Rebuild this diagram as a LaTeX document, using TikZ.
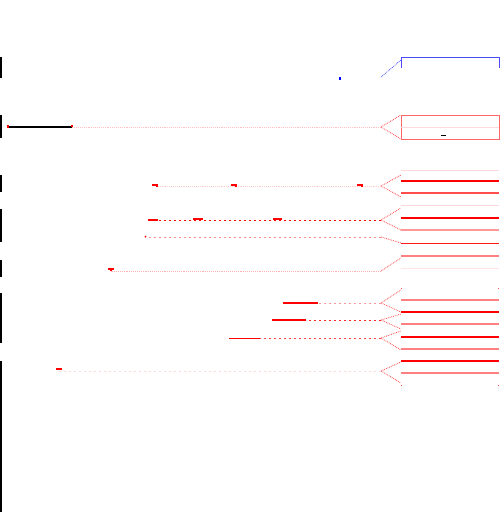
\documentclass[tikz,border=0pt]{standalone}
\begin{document}
\begin{tikzpicture}[x=1pt,y=-1pt]
            \tikzstyle{bar}=[line width=1.6pt,black]
            \tikzset{fan/.style = {densely dotted,red!75,line width=0.8pt}}
            \tikzset{trail/.style = {dash pattern=on 2pt off 3pt,red!35,line width=0.9pt}}
            \tikzset{tick/.style = {red,line width=1.2pt}}
            \useasboundingbox (0,0) rectangle (500,512);
            % left bars
            \foreach \a/\b in {57/78,115/138,175/192,209/242,260/277,293/343,361/512}
                \draw[bar] (1,\a) -- (1,\b);
            % hubs
            \coordinate (h1) at (381,77);
            \coordinate (h2) at (381,127);
            \coordinate (h3) at (381,186);
            \coordinate (h4) at (381,220);
            \coordinate (h5) at (381,237);
            \coordinate (h6) at (381,271);
            \coordinate (h7) at (381,303);
            \coordinate (h8) at (381,320);
            \coordinate (h9) at (381,338);
            \coordinate (h10) at (381,371);
            % left ends
            \coordinate (s1) at (340,77);
            \coordinate (s2) at (72,127);
            \coordinate (s3) at (157,186);
            \coordinate (s4) at (158,220);
            \coordinate (s5) at (145,237);
            \coordinate (s6) at (111,271);
            \coordinate (s7) at (318,303);
            \coordinate (s8) at (306,320);
            \coordinate (s9) at (260,338);
            \coordinate (s10) at (59,371);
            % boxes
            \draw[blue!70,line width=1pt] (401,68) -- (401,57) -- (499,57) -- (499,68);
            \draw[red!60,line width=0.9pt] (401,115) rectangle (499,139);
            \draw[red!15] (401,127) -- (499,127);
            \draw[black,line width=1pt] (441,135) -- (446,135);
            % leaves
            \foreach \y/\c/\w in {170/15/0.8,181/100/2,193/70/1.8,
                                  205/15/0.8,218/100/2,230/40/1.8,243/90/1,256/50/1.8,268/10/0.8,
                                  300/50/1.8,312/100/2,324/50/1.8,337/100/2,349/50/1.8,361/100/2,373/50/1.8}
                \draw[red!\c,line width=\w pt] (401,\y) -- (499,\y);
            \foreach \y in {288,385}
                \draw[red!70] (401,\y) -- +(0,1) (498,\y) -- +(0,1);
            % fans
            \draw[densely dotted,blue!70,line width=0.8pt] (h1) -- (401,60);
            \draw[fan] (h2) -- (401,115) (h2) -- (401,139);
            \draw[fan] (h3) -- (401,175) (h3) -- (401,197);
            \draw[fan] (h4) -- (401,208) (h4) -- (401,230);
            \draw[fan] (h5) -- (401,243);
            \draw[fan] (h6) -- (401,258);
            \draw[fan] (h7) -- (401,290) (h7) -- (401,312);
            \draw[fan] (h8) -- (401,314) (h8) -- (401,329);
            \draw[fan] (h9) -- (401,331) (h9) -- (401,350);
            \draw[fan] (h10) -- (401,362) (h10) -- (401,383);
            % trails
            \draw[trail,red!25,densely dotted] (h2) -- (s2);
            \draw[trail,red!20,densely dotted] (h3) -- (s3);
            \draw[trail,red] (h4) -- (s4);
            \draw[trail,red!45] (h5) -- (s5);
            \draw[trail,red!30,densely dotted] (h6) -- (s6);
            \draw[trail,red!40] (h7) -- (s7);
            \draw[trail,red!85] (h8) -- (s8);
            \draw[trail,red!75] (h9) -- (s9);
            \draw[trail,red!15] (h10) -- (s10);
            % marks
            \draw[blue,line width=1.5pt] (s1) -- +(0,3);
            \draw[black,line width=1.6pt] (8,127) -- (s2);
            \draw[tick] (8,125) -- (8,128) (s2) ++(0,-2) -- (s2);
            \foreach \x in {157,236,362}
                \draw[tick] (\x-5,185) -- (\x,185) -- (\x,187);
            \draw[tick] (148,220) -- (s4) (193,219) -- (203,219) (273,219) -- (282,219);
            \draw[tick] (s5) -- +(1,-1);
            \draw[tick] (s6) ++(-3,-2) -- ++(6,0) (s6) ++(0,-2) -- (s6);
            \draw[tick] (283,303) -- (s7);
            \draw[tick] (272,320) -- (s8);
            \draw[tick,line width=1pt] (229,338) -- (s9);
            \draw[tick] (s10) ++(-3,-2) -- ++(6,0);
\end{tikzpicture}
\end{document}
